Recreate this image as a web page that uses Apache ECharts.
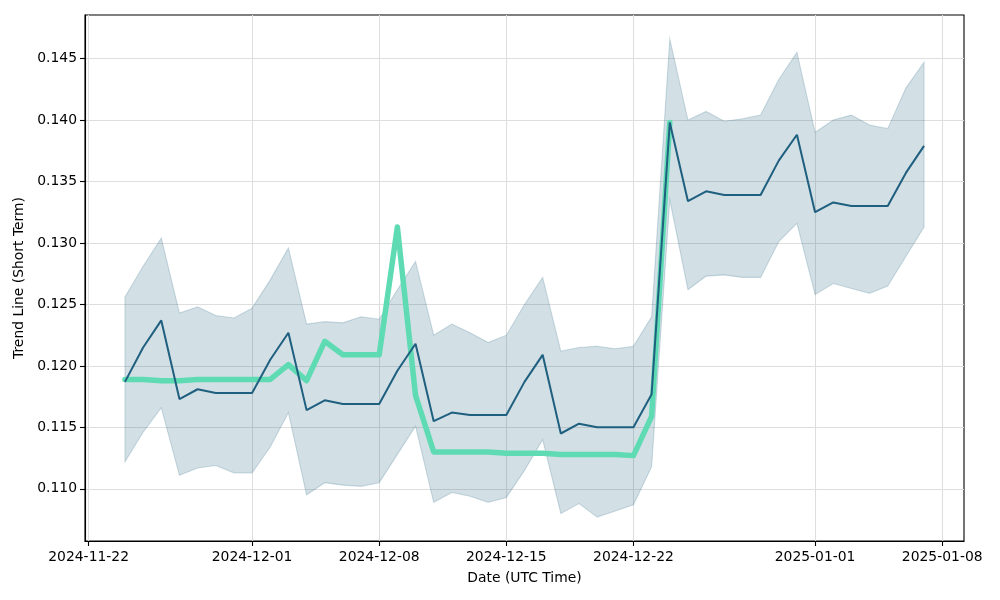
<!DOCTYPE html>
<html>
<head>
<meta charset="utf-8">
<script src="https://cdn.jsdelivr.net/npm/echarts@6/dist/echarts.min.js"></script>
<style>
html,body{margin:0;padding:0;background:#fff;}
#chart{width:1000px;height:600px;}
</style>
</head>
<body>
<div id="chart"></div>
<script>
const dates = ['2024-11-24','2024-11-25','2024-11-26','2024-11-27','2024-11-28','2024-11-29','2024-11-30',
'2024-12-01','2024-12-02','2024-12-03','2024-12-04','2024-12-05','2024-12-06','2024-12-07','2024-12-08',
'2024-12-09','2024-12-10','2024-12-11','2024-12-12','2024-12-13','2024-12-14','2024-12-15','2024-12-16',
'2024-12-17','2024-12-18','2024-12-19','2024-12-20','2024-12-21','2024-12-22','2024-12-23','2024-12-24',
'2024-12-25','2024-12-26','2024-12-27','2024-12-28','2024-12-29','2024-12-30','2024-12-31','2025-01-01',
'2025-01-02','2025-01-03','2025-01-04','2025-01-05','2025-01-06','2025-01-07'];

const meanValues = [0.1187,0.1215,0.1237,0.1173,0.1181,0.1178,0.1178,0.1178,0.1205,0.1227,0.1164,0.1172,0.1169,0.1169,0.1169,
0.1196,0.1218,0.1155,0.1162,0.1160,0.1160,0.1160,0.1187,0.1209,0.1145,0.1153,0.1150,0.1150,0.1150,0.1177,0.1398,
0.1334,0.1342,0.1339,0.1339,0.1339,0.1367,0.1388,0.1325,0.1333,0.1330,0.1330,0.1330,0.1357,0.1379];

const upperValues = [0.1256,0.1281,0.1304,0.1243,0.1248,0.1241,0.1239,0.1247,0.1270,0.1296,0.1234,0.1236,0.1235,0.1240,0.1238,
0.1262,0.1285,0.1225,0.1234,0.1227,0.1219,0.1225,0.1250,0.1272,0.1212,0.1215,0.1216,0.1214,0.1216,0.1240,0.1466,
0.1400,0.1407,0.1399,0.1401,0.1404,0.1433,0.1455,0.1390,0.1400,0.1404,0.1396,0.1393,0.1426,0.1447];

const lowerValues = [0.1122,0.1146,0.1166,0.1111,0.1117,0.1119,0.1113,0.1113,0.1134,0.1162,0.1095,0.1105,0.1103,0.1102,0.1105,
0.1128,0.1151,0.1089,0.1097,0.1094,0.1089,0.1093,0.1115,0.1140,0.1080,0.1088,0.1077,0.1082,0.1087,0.1118,0.1335,
0.1262,0.1273,0.1274,0.1272,0.1272,0.1301,0.1316,0.1258,0.1267,0.1263,0.1259,0.1265,0.1289,0.1313];

const trendValues = [0.1189,0.1189,0.1188,0.1188,0.1189,0.1189,0.1189,0.1189,0.1189,0.1201,0.1188,0.1220,0.1209,0.1209,0.1209,
0.1313,0.1176,0.1130,0.1130,0.1130,0.1130,0.1129,0.1129,0.1129,0.1128,0.1128,0.1128,0.1128,0.1127,0.1159,0.1398];

const xTickLabels = ['2024-11-22','2024-12-01','2024-12-08','2024-12-15','2024-12-22','2025-01-01','2025-01-08'];
const yTickLabels = [0.110,0.115,0.120,0.125,0.130,0.135,0.140,0.145];

const toTs = s => { const p = s.split('-').map(Number); return Date.UTC(p[0], p[1]-1, p[2]); };
const ts = dates.map(toTs);
const xTicks = xTickLabels.map(toTs);

const xSpan = ts[ts.length-1] - ts[0];
const xMin = ts[0] - 0.05*xSpan, xMax = ts[ts.length-1] + 0.05*xSpan;
const yLo = Math.min(...lowerValues), yHi = Math.max(...upperValues);
const ySpan = yHi - yLo;
const yMin = yLo - 0.05*ySpan, yMax = yHi + 0.05*ySpan;

const meanData = ts.map((t,i)=>[t, meanValues[i]]);
const trendData = trendValues.map((v,i)=>[ts[i], v]);

const pad = n => (n<10?'0':'')+n;
const fmtDate = v => { const d = new Date(v); return d.getUTCFullYear()+'-'+pad(d.getUTCMonth()+1)+'-'+pad(d.getUTCDate()); };

const font = 'DejaVu Sans';
const chart = echarts.init(document.getElementById('chart'), null, {renderer:'canvas'});
chart.setOption({
  animation:false,
  backgroundColor:'#ffffff',
  grid:{left:85, right:36, top:15, bottom:59, show:true, borderColor:'#000', borderWidth:1.1, backgroundColor:'transparent'},
  xAxis:{
    type:'value', min:xMin, max:xMax, scale:true,
    name:'Date (UTC Time)', nameLocation:'middle', nameGap:30,
    nameTextStyle:{fontFamily:font, fontSize:13.9, color:'#000'},
    axisLine:{show:true, lineStyle:{color:'#000', width:1.1}},
    axisTick:{show:true, customValues:xTicks, length:5, lineStyle:{color:'#000', width:1.1}},
    axisLabel:{customValues:xTicks, formatter:fmtDate, fontFamily:font, fontSize:13.9, color:'#000', margin:9, hideOverlap:false, showMinLabel:true, showMaxLabel:true},
    splitLine:{show:true, lineStyle:{color:'#dedede', width:1.1}}
  },
  yAxis:{
    type:'value', min:yMin, max:yMax, scale:true,
    name:'Trend Line (Short Term)', nameLocation:'middle', nameGap:56,
    nameTextStyle:{fontFamily:font, fontSize:13.9, color:'#000'},
    axisLine:{show:true, lineStyle:{color:'#000', width:1.1}},
    axisTick:{show:true, customValues:yTickLabels, length:5, lineStyle:{color:'#000', width:1.1}},
    axisLabel:{customValues:yTickLabels, formatter:v=>v.toFixed(3), fontFamily:font, fontSize:13.9, color:'#000', margin:8},
    splitLine:{show:true, lineStyle:{color:'#dedede', width:1.1}}
  },
  series:[
    {
      type:'custom', name:'band', z:1, silent:true,
      data:[[ts[0], lowerValues[0]]],
      renderItem:function(params, api){
        const pts = [];
        for (let i=0;i<ts.length;i++) pts.push(api.coord([ts[i], upperValues[i]]));
        for (let i=ts.length-1;i>=0;i--) pts.push(api.coord([ts[i], lowerValues[i]]));
        return {type:'polygon', shape:{points:pts}, style:{fill:'rgba(31,95,127,0.2)', stroke:'rgba(31,95,127,0.2)', lineWidth:1.1}};
      }
    },
    {
      type:'line', name:'trend', z:3, data:trendData, showSymbol:false, symbol:'none',
      lineStyle:{color:'#5fdbb4', width:5.5, cap:'round', join:'round'}
    },
    {
      type:'line', name:'mean', z:4, data:meanData, showSymbol:false, symbol:'none',
      lineStyle:{color:'#1f5f7f', width:2}
    }
  ]
});
</script>
</body>
</html>
